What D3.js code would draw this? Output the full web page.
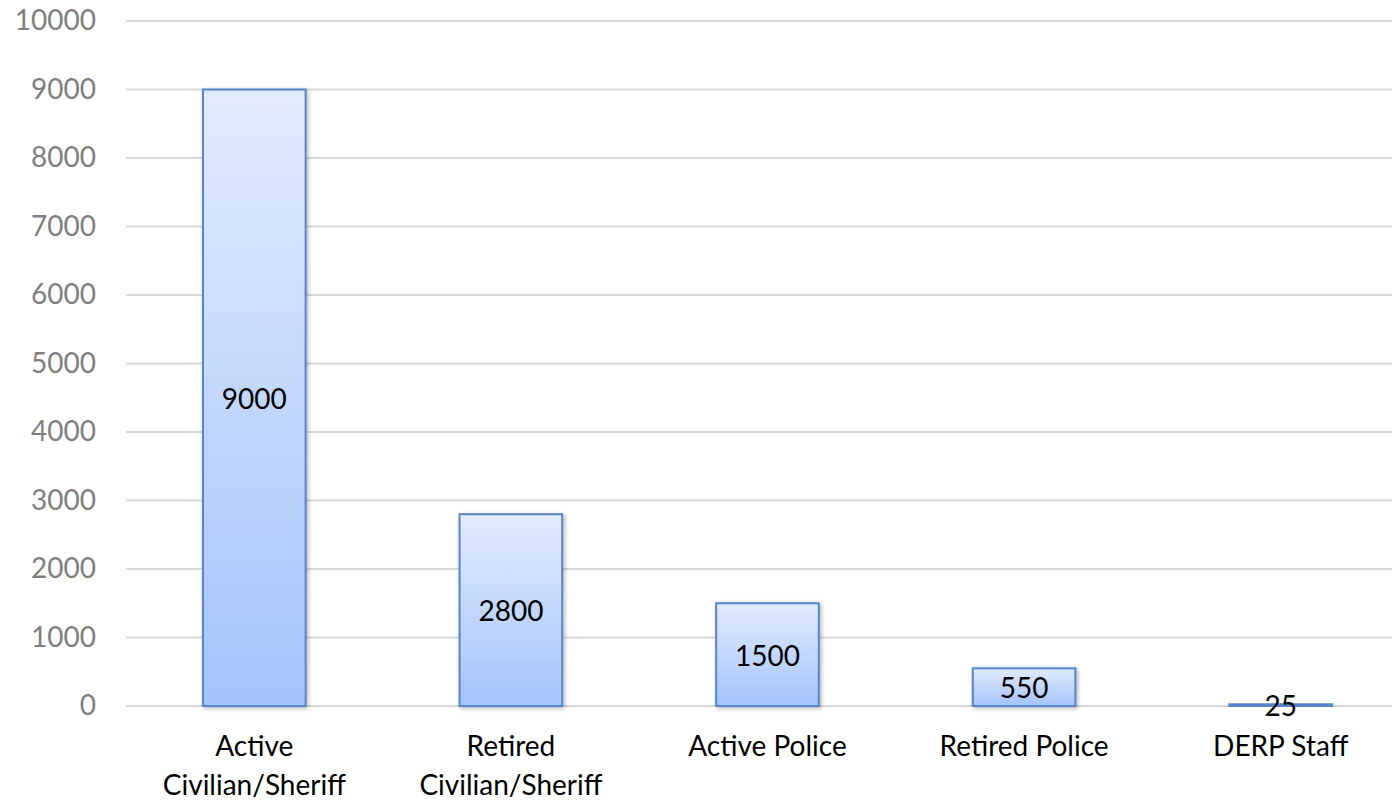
<!DOCTYPE html>
<html>
<head>
<meta charset="utf-8">
<script src="https://cdn.jsdelivr.net/npm/d3@7"></script>
<style>
  body { margin: 0; background: #fff; }
  svg text { font-family: Lato, "Open Sans", sans-serif; }
</style>
</head>
<body>
<div id="chart"></div>
<script>
// chart data
var categories = ["Active Civilian/Sheriff", "Retired Civilian/Sheriff", "Active Police", "Retired Police", "DERP Staff"];
var labelLines = [["Active", "Civilian/Sheriff"], ["Retired", "Civilian/Sheriff"], ["Active Police"], ["Retired Police"], ["DERP Staff"]];
var counts = [9000, 2800, 1500, 550, 25];
var yTicks = [0, 1000, 2000, 3000, 4000, 5000, 6000, 7000, 8000, 9000, 10000];

var width = 1392, height = 801;
var plot = {left: 126, right: 1409, top: 21, bottom: 706};

var svg = d3.select("#chart").append("svg").attr("width", width).attr("height", height);

var defs = svg.append("defs");
var grad = defs.append("linearGradient").attr("id", "barFill")
    .attr("x1", 0).attr("y1", 0).attr("x2", 0).attr("y2", 1);
grad.append("stop").attr("offset", "0%").attr("stop-color", "#e2ebfd");
grad.append("stop").attr("offset", "100%").attr("stop-color", "#a3c3fb");

var shadow = defs.append("filter").attr("id", "shadow")
    .attr("x", "-20%").attr("y", "-20%").attr("width", "140%").attr("height", "140%");
shadow.append("feDropShadow").attr("dx", 1.5).attr("dy", 1.5).attr("stdDeviation", 2)
    .attr("flood-color", "#000").attr("flood-opacity", 0.3);

var x = d3.scaleBand().domain(categories).range([plot.left, plot.right]).paddingInner(0.6).paddingOuter(0.3);
var y = d3.scaleLinear().domain([0, 10000]).range([plot.bottom, plot.top]);

// gridlines
svg.append("g").selectAll("line").data(yTicks).enter().append("line")
    .attr("x1", plot.left).attr("x2", plot.right)
    .attr("y1", function(d) { return y(d); }).attr("y2", function(d) { return y(d); })
    .attr("stroke", "#d9d9d9").attr("stroke-width", 2);

// y axis labels
var yAxis = d3.axisLeft(y).tickValues(yTicks).tickSize(0).tickPadding(0).tickFormat(d3.format("d"));
var gy = svg.append("g").attr("transform", "translate(96,0)").call(yAxis);
gy.select(".domain").remove();
gy.selectAll("text").attr("fill", "#7f7f7f").style("font-size", "28px")
    .style("font-family", "Lato, 'Open Sans', sans-serif");

// bars
svg.append("g").selectAll("rect").data(counts).enter().append("rect")
    .attr("x", function(d, i) { return x(categories[i]); })
    .attr("y", function(d) { return y(d); })
    .attr("width", x.bandwidth())
    .attr("height", function(d) { return y(0) - y(d); })
    .attr("fill", "url(#barFill)")
    .attr("stroke", "#5686c9").attr("stroke-width", 2)
    .attr("filter", "url(#shadow)");

// value labels
svg.append("g").selectAll("text").data(counts).enter().append("text")
    .attr("x", function(d, i) { return x(categories[i]) + x.bandwidth() / 2; })
    .attr("y", function(d) { return (y(d) + y(0)) / 2; })
    .attr("text-anchor", "middle").attr("dominant-baseline", "central")
    .style("font-size", "28px").attr("fill", "#000")
    .text(function(d) { return d; });

// category labels
var cat = svg.append("g").selectAll("text").data(categories).enter().append("text")
    .attr("text-anchor", "middle").style("font-size", "28px").attr("fill", "#000")
    .attr("x", function(d) { return x(d) + x.bandwidth() / 2; })
    .attr("y", 756);
cat.each(function(d, i) {
    var t = d3.select(this);
    labelLines[i].forEach(function(line, j) {
        t.append("tspan").attr("x", x(d) + x.bandwidth() / 2).attr("dy", j === 0 ? 0 : 39).text(line);
    });
});
</script>
</body>
</html>
